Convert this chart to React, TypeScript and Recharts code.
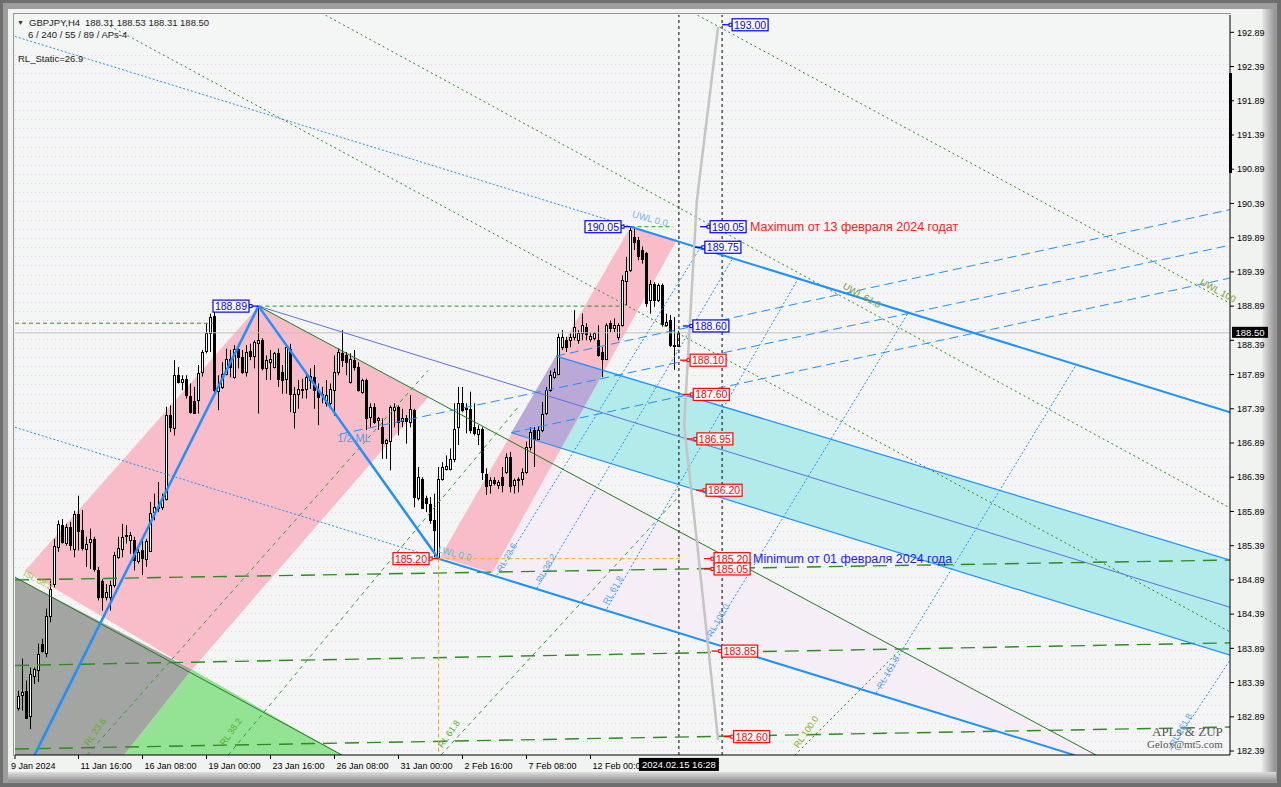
import React from "react";
import {
  ComposedChart,
  XAxis,
  YAxis,
  CartesianGrid,
  Bar,
  Scatter,
  ReferenceLine,
  ReferenceDot,
} from "recharts";

// GBPJPY H4, bars counted from 9 Jan 2024 00:00 (bar 0)
const FIRST_BAR = 1;
const OPEN = [
  183.03, 183.2, 183.27, 182.91, 183.49, 183.57, 183.96, 183.83, 184.37, 184.83,
  185.37, 185.69, 185.44, 185.66, 185.35, 185.86, 185.62, 185.35, 185.44, 185.49,
  185.04, 184.88, 184.64, 184.64, 184.81, 185.22, 185.35, 185.52, 185.47, 185.47,
  185.17, 185.32, 185.2, 185.32, 185.87, 185.93, 185.95, 186.08, 187.3, 187.12,
  187.88, 187.78, 187.83, 187.57, 187.51, 187.51, 187.93, 188.22, 188.49, 188.74,
  187.66, 187.71, 187.9, 188.12, 187.86, 188.27, 188.15, 187.93, 188.24, 188.17,
  188.35, 188.39, 187.99, 188.07, 188.0, 188.2, 187.93, 187.82, 188.27, 187.34,
  187.61, 187.68, 187.67, 187.81, 187.85, 187.66, 187.61, 187.47, 187.47, 187.66,
  187.93, 188.2, 188.17, 187.78, 188.1, 188.0, 187.64, 187.81, 187.27, 187.42,
  187.22, 187.12, 186.88, 186.93, 187.37, 187.42, 187.2, 187.25, 187.2, 187.37,
  186.08, 186.37, 186.08, 186.0, 185.76, 185.22, 186.37, 186.51, 186.52, 186.66,
  187.12, 187.47, 187.4, 187.39, 187.12, 187.03, 187.1, 186.44, 186.27, 186.35,
  186.27, 186.39, 186.47, 186.69, 186.27, 186.37, 186.37, 186.47, 186.83, 187.08,
  186.95, 187.08, 187.32, 187.66, 187.86, 187.9, 188.29, 188.39, 188.39, 188.44,
  188.39, 188.49, 188.59, 188.42, 188.42, 188.39, 188.22, 188.12, 188.64, 188.56,
  188.44, 188.61, 189.27, 189.41, 189.9, 189.85, 189.71, 189.66, 188.98, 189.22,
  188.98, 189.2, 188.61, 188.68, 188.32, 188.31,
];
const HIGH = [
  183.27, 183.74, 183.42, 183.61, 183.61, 183.96, 184.03, 184.47, 184.88, 185.49,
  185.76, 185.78, 185.71, 185.74, 185.9, 186.12, 185.91, 185.52, 185.64, 185.52,
  185.08, 184.9, 184.83, 184.88, 185.3, 185.52, 185.71, 185.69, 185.59, 185.52,
  185.37, 185.47, 185.49, 186.03, 186.15, 186.32, 186.15, 187.42, 187.44, 188.1,
  188.0, 187.88, 187.88, 187.76, 187.71, 188.03, 188.25, 188.63, 188.78, 188.88,
  187.88, 188.07, 188.27, 188.25, 188.32, 188.34, 188.25, 188.32, 188.34, 188.39,
  188.89, 188.42, 188.17, 188.25, 188.22, 188.27, 188.03, 188.32, 188.34, 187.71,
  187.81, 187.83, 187.9, 187.98, 188.03, 187.76, 187.71, 187.81, 187.76, 188.17,
  188.27, 188.54, 188.22, 188.2, 188.25, 188.07, 187.83, 187.83, 187.47, 187.47,
  187.27, 187.25, 186.95, 187.44, 187.47, 187.44, 187.39, 187.3, 187.59, 187.39,
  186.54, 186.39, 186.12, 186.1, 186.15, 186.54, 186.61, 186.71, 186.81, 187.47,
  187.71, 187.71, 187.47, 187.64, 187.47, 187.15, 187.12, 186.52, 186.39, 186.39,
  186.35, 186.54, 186.74, 186.76, 186.37, 186.39, 186.52, 186.91, 187.12, 187.12,
  187.13, 187.49, 187.71, 187.95, 187.98, 188.49, 188.54, 188.44, 188.49, 188.83,
  188.54, 188.78, 188.64, 188.51, 188.51, 188.61, 188.29, 188.64, 188.68, 188.71,
  188.64, 189.34, 189.61, 190.05, 190.02, 189.9, 189.76, 189.68, 189.27, 189.24,
  189.22, 189.22, 188.78, 188.76, 188.73, 188.53,
];
const LOW = [
  182.98, 182.98, 182.86, 182.71, 183.37, 183.4, 183.83, 183.76, 184.27, 184.78,
  185.3, 185.42, 185.39, 185.32, 185.22, 185.32, 185.32, 185.08, 185.05, 185.01,
  184.59, 184.44, 184.59, 184.44, 184.78, 185.2, 185.22, 185.42, 185.27, 185.03,
  185.13, 184.96, 185.08, 185.3, 185.76, 185.88, 185.91, 186.05, 187.05, 187.0,
  187.76, 187.66, 187.54, 187.32, 187.32, 187.32, 187.86, 188.2, 188.22, 187.61,
  187.37, 187.68, 187.88, 187.85, 187.83, 187.98, 187.9, 187.86, 188.1, 187.98,
  187.32, 187.95, 187.81, 187.81, 187.98, 187.71, 187.61, 187.61, 187.34, 187.1,
  187.39, 187.54, 187.54, 187.68, 187.39, 187.15, 187.47, 187.42, 187.44, 187.29,
  187.88, 188.0, 187.88, 187.76, 187.95, 187.64, 187.61, 187.08, 187.12, 187.17,
  187.08, 186.66, 186.66, 186.49, 187.12, 187.0, 187.12, 186.88, 187.12, 185.95,
  186.05, 185.93, 185.88, 185.71, 185.22, 185.2, 186.34, 186.49, 186.49, 186.61,
  186.86, 187.34, 187.03, 187.03, 187.0, 186.86, 186.35, 186.13, 186.15, 186.27,
  186.22, 186.17, 186.44, 186.17, 186.15, 186.17, 186.27, 186.44, 186.78, 186.54,
  186.93, 187.05, 187.3, 187.64, 187.83, 187.88, 188.25, 188.22, 188.29, 188.39,
  188.34, 188.39, 188.39, 188.37, 188.39, 188.15, 187.85, 188.1, 188.51, 188.51,
  188.39, 188.59, 188.9, 189.39, 189.71, 189.56, 189.51, 188.88, 188.78, 188.88,
  188.95, 188.59, 188.59, 188.29, 187.96, 188.31,
];
const CLOSE = [
  183.2, 183.25, 182.88, 183.52, 183.59, 183.81, 183.86, 184.37, 184.76, 185.39,
  185.71, 185.44, 185.67, 185.39, 185.86, 185.61, 185.35, 185.42, 185.49, 185.05,
  184.64, 184.64, 184.71, 184.81, 185.25, 185.35, 185.52, 185.54, 185.54, 185.18,
  185.3, 185.2, 185.46, 185.87, 185.95, 185.95, 186.08, 187.3, 187.12, 187.89,
  187.78, 187.82, 187.59, 187.34, 187.34, 187.91, 188.22, 188.49, 188.73, 187.66,
  187.73, 187.9, 188.12, 188.0, 188.27, 188.15, 187.93, 188.22, 188.17, 188.37,
  188.39, 187.98, 188.11, 188.12, 188.2, 187.82, 187.81, 188.29, 187.61, 187.61,
  187.68, 187.66, 187.85, 187.87, 187.66, 187.56, 187.59, 187.59, 187.68, 187.93,
  188.22, 188.1, 188.07, 188.12, 188.0, 187.66, 187.81, 187.25, 187.42, 187.2,
  187.25, 186.88, 186.93, 187.42, 187.42, 187.2, 187.25, 187.2, 187.39, 186.1,
  186.39, 185.95, 186.0, 185.76, 185.61, 186.37, 186.54, 186.56, 186.66, 187.1,
  187.47, 187.37, 187.38, 187.08, 187.03, 187.1, 186.47, 186.27, 186.35, 186.3,
  186.32, 186.27, 186.69, 186.27, 186.35, 186.35, 186.47, 186.83, 187.05, 186.95,
  187.08, 187.32, 187.66, 187.88, 187.93, 188.44, 188.44, 188.29, 188.44, 188.59,
  188.49, 188.61, 188.49, 188.46, 188.49, 188.17, 188.12, 188.61, 188.56, 188.61,
  188.61, 189.27, 189.41, 190.0, 189.83, 189.61, 189.58, 188.93, 189.22, 188.98,
  189.2, 188.63, 188.66, 188.32, 188.3, 188.5,
];

const X_MIN = 0.125;
const X_MAX = 303.875;
const Y_MIN = 182.332;
const Y_MAX = 193.143;

const Y_TICKS = [
  182.39, 182.89, 183.39, 183.89, 184.39, 184.89, 185.39, 185.89, 186.39, 186.89, 187.39,
  187.89, 188.39, 188.89, 189.39, 189.89, 190.39, 190.89, 191.39, 191.89, 192.39, 192.89,
];
const X_TICKS = [0.125, 16, 32, 48, 64, 80, 96, 112, 128, 144];
const X_LABELS = [
  "9 Jan 2024", "11 Jan 16:00", "16 Jan 08:00", "19 Jan 00:00", "23 Jan 16:00",
  "26 Jan 08:00", "31 Jan 00:00", "2 Feb 16:00", "7 Feb 08:00", "12 Feb 00:00",
];
const LAST_PRICE = 188.5;
const CROSS_BAR = 166.1;
const CROSS_LABEL = "2024.02.15 16:28";

// line objects as [bar1, price1, bar2, price2]
const ZIGZAG = [[5.0, 182.33, 61, 188.89], [61, 188.89, 106, 185.2]];
const FORK_WIDE = [[106, 185.2, 265, 182.33], [154, 190.05, 303.9, 187.34]];
const BAND_EDGES = [[135.4, 188.16, 303.9, 185.18], [124.2, 187.04, 303.9, 183.79]];
const MEDIAN = [[61, 188.89, 303.9, 184.49]];
const BLUE_DASHED = [[135.4, 188.16, 303.9, 190.3], [81.4, 187.02, 303.9, 189.78], [124.2, 187.04, 303.9, 189.3]];
const BLUE_DOTTED = [
  [0.125, 192.83, 154, 190.05], [0.125, 187.12, 106, 185.2],
  [120.6, 184.96, 171.4, 189.74], [130.6, 184.77, 179.6, 189.59], [148.1, 184.47, 196.1, 189.31],
  [173.4, 184.01, 223.4, 188.79], [215.4, 183.24, 265.4, 188.03], [289.1, 182.41, 303.9, 183.72],
];
const GREEN_SOLID = [[61, 188.89, 270.4, 182.33], [0.125, 184.93, 81.9, 182.33]];
const GREEN_LEVELS = [[0.125, 184.89, 303.9, 185.18], [0.125, 183.64, 303.9, 183.97], [0.125, 182.42, 303.9, 182.74]];
const GREEN_SHORT = [[0.125, 188.64, 49.6, 188.64], [61, 188.89, 152.1, 188.89], [154, 190.05, 164.6, 190.05]];
const GREEN_DOTTED = [[170.75, 193.14, 303.9, 188.93], [77.75, 193.14, 303.9, 185.94], [23.9, 192.98, 303.9, 184.13]];
const GREEN_RL = [[18.1, 182.33, 103.4, 187.95], [53.4, 182.33, 126.4, 187.45], [106.6, 182.33, 166.4, 186.13]];
const OLIVE_RL = [[195.1, 182.33, 221.4, 183.87]];
const ORANGE = [[106, 185.2, 166.4, 185.2], [106, 185.2, 106, 182.33]];
const VERTICALS = [CROSS_BAR, 176.9];
const GRAY_PATH = [[175.9, 192.97], [170.6, 190.44], [167.4, 187.15], [170.75, 185.37], [175.9, 182.55]];

// filled zones as vertex lists [bar, price]
const ZONE_GRAY = [[0.125, 184.93], [44.4, 183.58], [27.4, 182.33], [0.125, 182.33]];
const ZONE_GREEN = [[44.4, 183.58], [81.9, 182.33], [27.4, 182.33]];
const CHANNEL_A = [[2.6, 185.02], [61, 188.89], [103.4, 187.56], [44.4, 183.58]];
const CHANNEL_B = [[106.4, 185.22], [154, 190.05], [165.6, 189.86], [119.4, 184.99]];
const BAND = [[135.4, 188.16], [303.9, 185.18], [303.9, 183.79], [124.2, 187.04]];
const BAND_OVERLAP = [[135.4, 188.16], [147.5, 187.95], [136.7, 186.82], [124.2, 187.04]];
const LOWER_ZONE = [[134.6, 186.59], [119.4, 184.99], [265, 182.33], [270.4, 182.33]];

// price tags [bar, price]
const BLUE_TAGS_RIGHT = [[176.9, 193.0], [171.4, 190.05], [170.1, 189.75], [167.1, 188.6]];
const RED_TAGS_RIGHT = [
  [166.4, 188.1], [167.2, 187.6], [168.1, 186.95], [170.4, 186.2],
  [172.4, 185.2], [172.4, 185.05], [174.3, 183.85], [177.3, 182.6],
];
const BLUE_TAGS_LEFT = [[61, 188.89], [154, 190.05]];
const RED_TAGS_LEFT = [[106, 185.2]];
const NOTE_MAX = { x: 171.4, y: 190.05, text: "Maximum от 13 февраля 2024 годат" };
const NOTE_MIN = { x: 172.4, y: 185.2, text: "Minimum от 01 февраля 2024 года" };

const RL_BLUE_LABELS = [
  { x: 123.1, y: 185.22, text: "RL 23.6" },
  { x: 132.9, y: 185.06, text: "RL 38.2" },
  { x: 149.6, y: 184.74, text: "RL 61.8" },
  { x: 175.9, y: 184.3, text: "RL 100.0" },
  { x: 218.4, y: 183.54, text: "RL 161.8" },
  { x: 291.6, y: 182.7, text: "RL 261.8" },
];
const RL_GREEN_LABELS = [
  { x: 20.1, y: 182.67, text: "RL 23.6" },
  { x: 54.1, y: 182.67, text: "RL 38.2" },
  { x: 108.6, y: 182.64, text: "RL 61.8" },
];

const candles = OPEN.map((o, k) => ({ x: FIRST_BAR + k, o, h: HIGH[k], l: LOW[k], c: CLOSE[k] }));
const toPts = (arr: number[][]) => arr.map(([x, y]) => ({ x, y }));

// pink dotted background texture of the terminal (pixel rows, not data)
const textureRows: number[] = [];
for (let py = 55; py < 755; py += 9.15) textureRows.push(Math.round(py) + 0.5);

function Candle(props: any) {
  const { x, y, width, height, payload } = props;
  if (!payload || x == null || y == null) return <g />;
  const top = Math.min(y, y + height);
  const bot = Math.max(y, y + height);
  const span = payload.h - payload.l;
  const at = (v: number) => (span > 0 ? top + ((payload.h - v) / span) * (bot - top) : top);
  const cx = Math.round(x + width / 2 - 0.5) + 0.5;
  const yo = at(payload.o);
  const yc = at(payload.c);
  const up = payload.c >= payload.o;
  const bTop = Math.round(Math.min(yo, yc)) + 0.5;
  const bH = Math.max(Math.round(Math.abs(yo - yc)), 1);
  return (
    <g>
      <line x1={cx} x2={cx} y1={top} y2={bot} stroke="#000" strokeWidth={1} />
      <rect x={cx - 1} y={bTop} width={2} height={bH} fill={up ? "#fff" : "#000"} stroke="#000" strokeWidth={1} />
    </g>
  );
}

function PolyFill(props: any) {
  const pts = (props.points || []).map((p: any) => `${p.x},${p.y}`).join(" ");
  return <polygon points={pts} fill={props.color} stroke="none" />;
}

const NoDot = () => <g />;

function Tag({ cx, cy, text, color, side }: any) {
  const w = 36;
  const h = 12;
  const bx = side === "right" ? cx + 10 : cx - 9.5 - w;
  const sq = side === "right" ? bx - 3 : bx + w;
  return (
    <g>
      <line x1={cx} y1={cy} x2={sq} y2={cy} stroke={color} strokeWidth={1.3} />
      <rect x={sq} y={cy - 1.5} width={3} height={3} fill="#fff" stroke={color} strokeWidth={1} />
      <rect x={bx} y={cy - h / 2} width={w} height={h} fill="#fff" stroke={color} strokeWidth={1.2} />
      <text x={bx + w / 2} y={cy + 4} textAnchor="middle" fill={color} fontSize={10.5}>
        {text}
      </text>
    </g>
  );
}

function RotText({ cx, cy, text, color, angle, size }: any) {
  return (
    <text
      x={cx}
      y={cy}
      fill={color}
      fontSize={size}
      textAnchor="middle"
      dominantBaseline="central"
      transform={`rotate(${angle} ${cx} ${cy})`}
    >
      {text}
    </text>
  );
}

function XTick({ x, y, payload }: any) {
  const k = X_TICKS.indexOf(payload.value);
  return (
    <text x={k === 0 ? x - 4 : x + 2} y={y + 8} fontSize={9} fill="#000" textAnchor="start">
      {X_LABELS[k]}
    </text>
  );
}

// the tick just under the last-price box is nudged down so that it stays readable
function YTick({ x, y, payload }: any) {
  const v = payload.value as number;
  const nudge = Math.abs(v - LAST_PRICE) < 0.2 ? 4 : 0;
  return (
    <text x={x} y={y + 3.2 + nudge} fontSize={9} fill="#000" textAnchor="start">
      {v.toFixed(2)}
    </text>
  );
}

const seg = (s: number[], key: string, style: any) => (
  <ReferenceLine
    key={key}
    segment={[{ x: s[0], y: s[1] }, { x: s[2], y: s[3] }]}
    ifOverflow="hidden"
    zIndex={400}
    {...style}
  />
);

const zone = (arr: number[][], color: string, key: string) => (
  <Scatter
    key={key}
    data={toPts(arr)}
    dataKey="y"
    isAnimationActive={false}
    shape={<NoDot />}
    line={<PolyFill color={color} />}
    zIndex={50}
    legendType="none"
  />
);

const BLUE = "#1e90ff";

export default function App() {
  return (
    <div
      style={{
        position: "absolute",
        left: 0,
        top: 0,
        width: 1281,
        height: 787,
        background: "#6e6e6e",
        overflow: "hidden",
        fontFamily: '"Liberation Sans", Arial, sans-serif',
      }}
    >
      <div style={{ position: "absolute", left: 3, top: 3, width: 1274, height: 780, background: "#9d9d9d" }} />
      <div style={{ position: "absolute", left: 8, top: 9, width: 1254, height: 763, background: "#f1f3f1" }} />
      <div
        style={{
          position: "absolute", left: 1262, top: 9, width: 14, height: 773,
          background: "linear-gradient(to right, #e8e8e8, #8e8e8e)",
        }}
      />
      <div
        style={{
          position: "absolute", left: 8, top: 772, width: 1268, height: 10,
          background: "linear-gradient(#dedede, #8e8e8e)",
        }}
      />
      <div
        style={{
          position: "absolute", left: 13, top: 13, width: 1217, height: 742,
          borderTop: "1px solid #979797", borderLeft: "1px solid #979797",
        }}
      />
      <div style={{ position: "absolute", left: 0, top: 0 }}>
        <ComposedChart
          width={1281}
          height={787}
          data={candles}
          margin={{ top: 15, left: 15, right: 13, bottom: 12 }}
        >
          <CartesianGrid
            vertical={false}
            horizontalPoints={textureRows}
            stroke="#f6c6f4"
            strokeDasharray="1 3"
            fill="#f3f6f4"
          />
          <XAxis
            dataKey="x"
            type="number"
            domain={[X_MIN, X_MAX]}
            ticks={X_TICKS}
            allowDataOverflow
            interval={0}
            height={20}
            tickSize={4}
            tickLine={{ stroke: "#000" }}
            axisLine={{ stroke: "#000" }}
            tick={<XTick />}
          />
          <YAxis
            orientation="right"
            type="number"
            domain={[Y_MIN, Y_MAX]}
            ticks={Y_TICKS}
            allowDataOverflow
            interval={0}
            width={38}
            tickSize={4}
            tickMargin={3}
            tickLine={{ stroke: "#000" }}
            axisLine={{ stroke: "#000" }}
            tick={<YTick />}
          />

          {zone(LOWER_ZONE, "#f6eef7", "z0")}
          {zone(BAND, "#b3ebea", "z1")}
          {zone(ZONE_GRAY, "#a2a5a1", "z2")}
          {zone(ZONE_GREEN, "#94e294", "z3")}
          {zone(CHANNEL_A, "#f8bdc8", "z4")}
          {zone(CHANNEL_B, "#f8bdc8", "z5")}
          {zone(BAND_OVERLAP, "#baa8d6", "z6")}

          <Bar
            dataKey={(d: any) => [d.l, d.h]}
            barSize={3}
            shape={Candle}
            isAnimationActive={false}
            zIndex={300}
          />

          <ReferenceLine y={LAST_PRICE} stroke="#c2c2c2" strokeWidth={1} ifOverflow="hidden" zIndex={400} />
          {VERTICALS.map((v, k) => (
            <ReferenceLine key={`v${k}`} x={v} stroke="#000" strokeDasharray="3 3" ifOverflow="hidden" zIndex={400} />
          ))}
          {GREEN_LEVELS.map((s, k) => seg(s, `gl${k}`, { stroke: "#2c8c1c", strokeWidth: 1.4, strokeDasharray: "14 8" }))}
          {GREEN_SHORT.map((s, k) => seg(s, `gs${k}`, { stroke: "#1f9a1f", strokeWidth: 1, strokeDasharray: "4 3" }))}
          {GREEN_DOTTED.map((s, k) => seg(s, `gd${k}`, { stroke: "#2a8a22", strokeWidth: 1, strokeDasharray: "2 3" }))}
          {GREEN_RL.map((s, k) => seg(s, `gr${k}`, { stroke: "#30a030", strokeWidth: 1, strokeDasharray: "4 4" }))}
          {OLIVE_RL.map((s, k) => seg(s, `or${k}`, { stroke: "#1e7a1e", strokeWidth: 1, strokeDasharray: "2 3" }))}
          {GREEN_SOLID.map((s, k) => seg(s, `gsl${k}`, { stroke: "#1e7b1e", strokeWidth: 1 }))}
          {BLUE_DOTTED.map((s, k) => seg(s, `bd${k}`, { stroke: BLUE, strokeWidth: 1, strokeDasharray: "2 2" }))}
          {BLUE_DASHED.map((s, k) => seg(s, `bds${k}`, { stroke: BLUE, strokeWidth: 1, strokeDasharray: "9 5" }))}
          {BAND_EDGES.map((s, k) => seg(s, `be${k}`, { stroke: BLUE, strokeWidth: 1.2 }))}
          {MEDIAN.map((s, k) => seg(s, `md${k}`, { stroke: "#5d6fe6", strokeWidth: 1 }))}
          {FORK_WIDE.map((s, k) => seg(s, `fw${k}`, { stroke: BLUE, strokeWidth: 2 }))}
          {ZIGZAG.map((s, k) => seg(s, `zz${k}`, { stroke: BLUE, strokeWidth: 2.5 }))}
          {ORANGE.map((s, k) => seg(s, `og${k}`, { stroke: "#ffa500", strokeWidth: 1, strokeDasharray: "4 3" }))}
          {GRAY_PATH.slice(1).map((p, k) =>
            seg([GRAY_PATH[k][0], GRAY_PATH[k][1], p[0], p[1]], `gp${k}`, { stroke: "#c4c4c4", strokeWidth: 2.5 })
          )}

          {RL_BLUE_LABELS.map((l, k) => (
            <ReferenceDot key={`rlb${k}`} x={l.x} y={l.y} r={0} zIndex={2000}
              shape={(p: any) => <RotText {...p} text={l.text} color="#58a6f0" angle={-60} size={9} />} />
          ))}
          {RL_GREEN_LABELS.map((l, k) => (
            <ReferenceDot key={`rlg${k}`} x={l.x} y={l.y} r={0} zIndex={2000}
              shape={(p: any) => <RotText {...p} text={l.text} color="#5ab02a" angle={-55} size={9} />} />
          ))}
          <ReferenceDot x={197.9} y={182.67} r={0} zIndex={2000}
            shape={(p: any) => <RotText {...p} text="RL 100.0" color="#8aac10" angle={-55} size={9} />} />
          <ReferenceDot x={158.9} y={190.17} r={0} zIndex={2000}
            shape={(p: any) => <RotText {...p} text="UWL 0.0" color="#78b4e8" angle={15} size={9.5} />} />
          <ReferenceDot x={211.9} y={189.05} r={0} zIndex={2000}
            shape={(p: any) => <RotText {...p} text="UWL 61.8" color="#7e9c2e" angle={29} size={9.5} />} />
          <ReferenceDot x={300.9} y={189.12} r={0} zIndex={2000} ifOverflow="hidden"
            shape={(p: any) => <RotText {...p} text="UWL 100" color="#7e9c2e" angle={29} size={9.5} />} />
          <ReferenceDot x={110.1} y={185.28} r={0} zIndex={2000}
            shape={(p: any) => <RotText {...p} text="LWL 0.0" color="#5bbfd6" angle={15} size={9.5} />} />
          <ReferenceDot x={84.9} y={186.96} r={0} zIndex={2000}
            shape={(p: any) => <RotText {...p} text="1/2 ML" color="#4d9ee8" angle={0} size={11} />} />
          <ReferenceDot x={5.9} y={184.89} r={0} zIndex={2000}
            shape={(p: any) => <RotText {...p} text="ISL 38.2" color="#9ac63a" angle={28} size={8.5} />} />

          {BLUE_TAGS_RIGHT.map(([x, y], k) => (
            <ReferenceDot key={`tbr${k}`} x={x} y={y} r={0} zIndex={2000}
              shape={(p: any) => <Tag {...p} text={y.toFixed(2)} color="#0000ff" side="right" />} />
          ))}
          {RED_TAGS_RIGHT.map(([x, y], k) => (
            <ReferenceDot key={`trr${k}`} x={x} y={y} r={0} zIndex={2000}
              shape={(p: any) => <Tag {...p} text={y.toFixed(2)} color="#ff0000" side="right" />} />
          ))}
          {BLUE_TAGS_LEFT.map(([x, y], k) => (
            <ReferenceDot key={`tbl${k}`} x={x} y={y} r={0} zIndex={2000}
              shape={(p: any) => <Tag {...p} text={y.toFixed(2)} color="#0000ff" side="left" />} />
          ))}
          {RED_TAGS_LEFT.map(([x, y], k) => (
            <ReferenceDot key={`trl${k}`} x={x} y={y} r={0} zIndex={2000}
              shape={(p: any) => <Tag {...p} text={y.toFixed(2)} color="#ff0000" side="left" />} />
          ))}
          <ReferenceDot x={NOTE_MAX.x} y={NOTE_MAX.y} r={0} zIndex={2000}
            shape={(p: any) => (
              <text x={p.cx + 50} y={p.cy + 4.5} fill="#ff2020" fontSize={12.5}>{NOTE_MAX.text}</text>
            )} />
          <ReferenceDot x={NOTE_MIN.x} y={NOTE_MIN.y} r={0} zIndex={2000}
            shape={(p: any) => (
              <text x={p.cx + 49} y={p.cy + 4.5} fill="#2020ff" fontSize={12.5}>{NOTE_MIN.text}</text>
            )} />

          <ReferenceDot x={X_MAX} y={LAST_PRICE} r={0} zIndex={2000} ifOverflow="visible"
            shape={(p: any) => (
              <g>
                <rect x={p.cx + 2} y={p.cy - 6} width={36} height={11} fill="#000" />
                <text x={p.cx + 20} y={p.cy + 3} textAnchor="middle" fill="#fff" fontSize={9.5}>
                  {LAST_PRICE.toFixed(2)}
                </text>
              </g>
            )} />
          <ReferenceDot x={CROSS_BAR} y={Y_MIN + 0.001} r={0} zIndex={2000} ifOverflow="visible"
            shape={(p: any) => (
              <g>
                <rect x={p.cx - 40} y={p.cy + 3} width={80} height={13} fill="#000" />
                <text x={p.cx} y={p.cy + 13} textAnchor="middle" fill="#fff" fontSize={9.5}>
                  {CROSS_LABEL}
                </text>
              </g>
            )} />
        </ComposedChart>
      </div>
      <div style={{ position: "absolute", left: 1229, top: 73, width: 3, height: 100, background: "#000" }} />
      <svg width={1281} height={787} style={{ position: "absolute", left: 0, top: 0, pointerEvents: "none" }}>
        <text x={17} y={25} fontSize={7} fill="#333">▼</text>
        <text x={29} y={26} fontSize={9.5} fill="#1a1a1a">GBPJPY,H4</text>
        <text x={85} y={26} fontSize={9.5} fill="#1a1a1a">188.31 188.53 188.31 188.50</text>
        <text x={28} y={38} fontSize={9.5} fill="#1a1a1a">6 / 240 / 55 / 89 / APs-4</text>
        <text x={18} y={62} fontSize={9.5} fill="#1a1a1a">RL_Static=26.9</text>
        <text x={1152} y={736} fontSize={13} fill="#555" fontFamily='"Liberation Serif", serif'>APLs &amp; ZUP</text>
        <text x={1147} y={748} fontSize={11} fill="#555" fontFamily='"Liberation Serif", serif'>Gelox@mt5.com</text>
      </svg>
    </div>
  );
}
